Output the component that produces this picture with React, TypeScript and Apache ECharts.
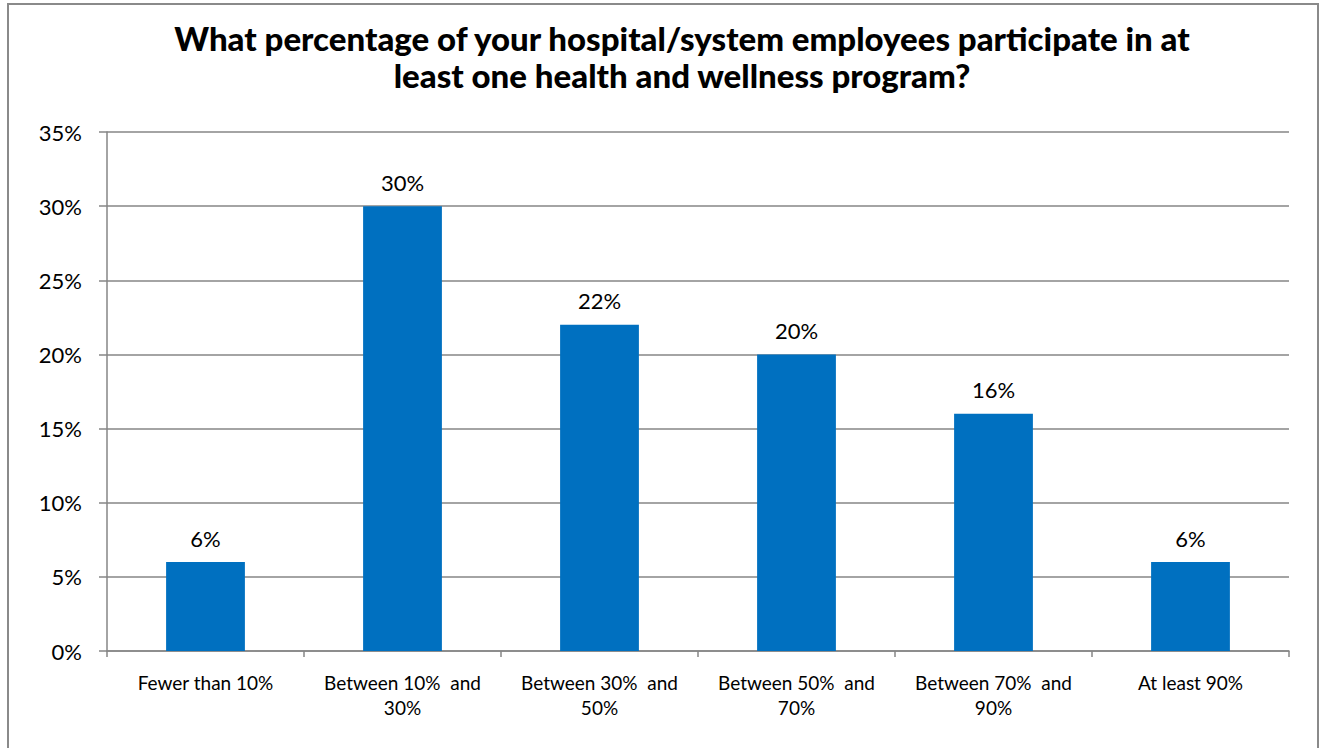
import React, { useEffect, useRef } from "react";
import * as echarts from "echarts";

const titleLines = [
  "What percentage of your hospital/system employees participate in at",
  "least one health and wellness program?",
];
const categories = [
  "Fewer than 10%",
  "Between 10%  and\n30%",
  "Between 30%  and\n50%",
  "Between 50%  and\n70%",
  "Between 70%  and\n90%",
  "At least 90%",
];
const values = [6, 30, 22, 20, 16, 6];
const yMin = 0;
const yMax = 35;
const yStep = 5;

const FONT = "Lato, 'Open Sans', sans-serif";

export default function App() {
  const ref = useRef<HTMLDivElement>(null);
  useEffect(() => {
    if (!ref.current) return;
    const chart = echarts.init(ref.current, undefined, { renderer: "svg" });
    chart.setOption({
      animation: false,
      backgroundColor: "#ffffff",
      title: {
        text: titleLines.join("\n"),
        left: 677,
        top: 14,
        textAlign: "center",
        textStyle: {
          fontFamily: FONT,
          fontWeight: 900,
          fontSize: 33,
          lineHeight: 37,
          color: "#000000",
        },
      },
      graphic: [
        {
          type: "rect",
          shape: { x: 8, y: 4, width: 1310, height: 800 },
          style: { fill: "none", stroke: "#8a8a8a", lineWidth: 2 },
          silent: true,
        },
      ],
      grid: { left: 107, right: 31, top: 132, bottom: 97, containLabel: false },
      xAxis: {
        type: "category",
        data: categories,
        axisLine: { show: true, lineStyle: { color: "#868686", width: 1.5 } },
        axisTick: { show: true, length: 6, lineStyle: { color: "#868686", width: 1.5 } },
        axisLabel: {
          interval: 0,
          margin: 19,
          fontFamily: FONT,
          fontSize: 19,
          lineHeight: 25,
          color: "#000000",
        },
      },
      yAxis: {
        type: "value",
        min: yMin,
        max: yMax,
        interval: yStep,
        axisLine: { show: true, lineStyle: { color: "#868686", width: 1.5 } },
        axisTick: { show: true, length: 8, lineStyle: { color: "#868686", width: 1.5 } },
        splitLine: { show: true, lineStyle: { color: "#868686", width: 1.5 } },
        axisLabel: {
          margin: 25,
          fontFamily: FONT,
          fontSize: 22,
          color: "#000000",
          formatter: (v: number) => v + "%",
        },
      },
      series: [
        {
          type: "bar",
          data: values,
          barWidth: "40%",
          itemStyle: { color: "#0070C0" },
          label: {
            show: true,
            position: "top",
            distance: 13,
            fontFamily: FONT,
            fontSize: 22,
            color: "#000000",
            formatter: (p: any) => p.value + "%",
          },
        },
      ],
    });
    return () => chart.dispose();
  }, []);
  return (
    <div
      ref={ref}
      style={{ position: "absolute", left: 0, top: 0, width: 1320, height: 748 }}
    />
  );
}
